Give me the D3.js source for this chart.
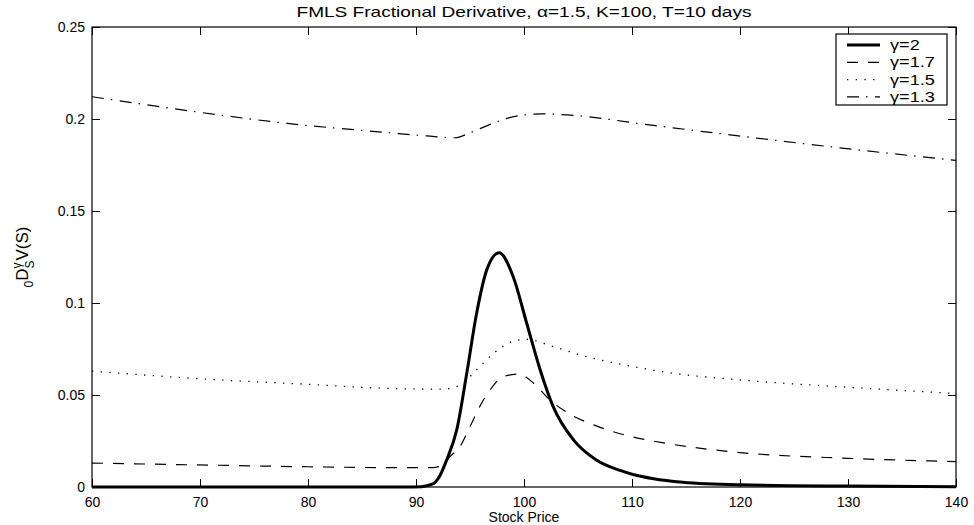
<!DOCTYPE html>
<html>
<head>
<meta charset="utf-8">
<script src="https://cdn.jsdelivr.net/npm/d3@7"></script>
<style>
  body { margin: 0; background: #fff; }
  svg { display: block; font-family: "Liberation Sans", Arial, sans-serif; }
</style>
</head>
<body>
<svg id="chart" width="974" height="525"></svg>
<script>
// values
const xTicks = [60, 70, 80, 90, 100, 110, 120, 130, 140];
const yTicks = [0, 0.05, 0.1, 0.15, 0.2, 0.25];

const sGamma2 = [60, 80, 89, 90.5, 91.5, 92.2, 92.84, 93.77, 94.7, 95.6, 96.55, 97.7,
  99.0, 100.25, 101.5, 102.7, 104.6, 106.7, 108.9, 110.1, 112, 114.7, 120, 130, 140];
const vGamma2 = [0, 0, 0, 0.0002, 0.0015, 0.006, 0.0147, 0.031, 0.0618, 0.094, 0.118, 0.1273,
  0.1143, 0.089, 0.0636, 0.0437, 0.0255, 0.0147, 0.009, 0.0068, 0.0045, 0.0026, 0.0012, 0.0005, 0.0002];

const sGamma17 = [60, 69.8, 80, 88.6, 91.5, 92.5, 93.15, 94.07, 95, 95.9, 96.85, 98.1, 99.5,
  100.9, 102.4, 104.6, 106.7, 108, 110, 113.2, 120, 130, 140];
const vGamma17 = [0.013, 0.012, 0.011, 0.0105, 0.0105, 0.012, 0.0165, 0.0219, 0.0328, 0.0437,
  0.0527, 0.06, 0.0614, 0.0564, 0.0473, 0.0385, 0.0332, 0.0305, 0.0273, 0.0237, 0.0187, 0.0156, 0.0138];

const sGamma15 = [60, 69.8, 80, 88.6, 92.5, 94.07, 95.6, 97.2, 99, 100.25, 102.7, 105.8,
  108.6, 113.2, 120, 130, 140];
const vGamma15 = [0.063, 0.0589, 0.0558, 0.0534, 0.0532, 0.0554, 0.0636, 0.0727, 0.0793, 0.0803,
  0.0763, 0.0708, 0.0672, 0.0623, 0.0582, 0.0542, 0.0508];

const sGamma13 = [60, 68.9, 78.1, 87.4, 91, 93.6, 95, 96.7, 98.5, 100.06, 101.5, 104, 112,
  121, 130.5, 140];
const vGamma13 = [0.2121, 0.2045, 0.1976, 0.1926, 0.1908, 0.1898, 0.1925, 0.1967, 0.2005, 0.2022,
  0.2028, 0.2022, 0.1965, 0.19, 0.1835, 0.1775];

const seriesNames = ['γ=2', 'γ=1.7', 'γ=1.5', 'γ=1.3'];

const series = [
  {name: seriesNames[0], s: sGamma2, v: vGamma2, width: 3, dash: null},
  {name: seriesNames[1], s: sGamma17, v: vGamma17, width: 1.2, dash: '11,10'},
  {name: seriesNames[2], s: sGamma15, v: vGamma15, width: 1.3, dash: '1.3,7.4'},
  {name: seriesNames[3], s: sGamma13, v: vGamma13, width: 1.2, dash: '12,7,1.5,7.5'},
].map(d => ({...d, points: d.s.map((s, i) => ({s, v: d.v[i]}))}));

const plot = {left: 92, right: 956, top: 27, bottom: 487};
const tickLen = 8;

const svg = d3.select('#chart');

const xScale = d3.scaleLinear().domain([60, 140]).range([plot.left, plot.right]);
const yScale = d3.scaleLinear().domain([0, 0.25]).range([plot.bottom, plot.top]);

const line = d3.line()
  .x(d => xScale(d.s))
  .y(d => yScale(d.v))
  .curve(d3.curveMonotoneX);

// curves
svg.append('g')
  .selectAll('path')
  .data(series)
  .join('path')
    .attr('fill', 'none')
    .attr('stroke', '#000')
    .attr('stroke-width', d => d.width)
    .attr('stroke-dasharray', d => d.dash)
    .attr('d', d => line(d.points));

// axes, ticks pointing inwards on all four sides
const fmtY = d => d === 0 ? '0' : String(d);

svg.append('g')
    .attr('transform', `translate(0,${plot.bottom})`)
    .call(d3.axisBottom(xScale).tickValues(xTicks).tickSize(-tickLen).tickPadding(10).tickSizeOuter(0))
    .call(g => g.select('.domain').remove())
    .call(g => g.selectAll('text').attr('font-size', 14).attr('fill', '#000'));

svg.append('g')
    .attr('transform', `translate(0,${plot.top})`)
    .call(d3.axisTop(xScale).tickValues(xTicks).tickSize(-tickLen).tickFormat('').tickSizeOuter(0))
    .call(g => g.select('.domain').remove());

svg.append('g')
    .attr('transform', `translate(${plot.left},0)`)
    .call(d3.axisLeft(yScale).tickValues(yTicks).tickSize(-tickLen).tickPadding(7).tickFormat(fmtY).tickSizeOuter(0))
    .call(g => g.select('.domain').remove())
    .call(g => g.selectAll('text').attr('font-size', 14).attr('fill', '#000'));

svg.append('g')
    .attr('transform', `translate(${plot.right},0)`)
    .call(d3.axisRight(yScale).tickValues(yTicks).tickSize(-tickLen).tickFormat('').tickSizeOuter(0))
    .call(g => g.select('.domain').remove());

svg.selectAll('.tick line').attr('stroke', '#000');

svg.append('rect')
    .attr('x', plot.left).attr('y', plot.top)
    .attr('width', plot.right - plot.left).attr('height', plot.bottom - plot.top)
    .attr('fill', 'none')
    .attr('stroke', '#000')
    .attr('stroke-width', 1.2);

// titles
svg.append('text')
    .attr('x', (plot.left + plot.right) / 2).attr('y', 17)
    .attr('text-anchor', 'middle')
    .attr('font-size', 15)
    .attr('textLength', 455)
    .attr('lengthAdjust', 'spacingAndGlyphs')
    .text('FMLS Fractional Derivative, α=1.5, K=100, T=10 days');

svg.append('text')
    .attr('x', (plot.left + plot.right) / 2).attr('y', 522)
    .attr('text-anchor', 'middle')
    .attr('font-size', 14)
    .text('Stock Price');

const yLabel = svg.append('text')
    .attr('transform', `translate(28,${(plot.top + plot.bottom) / 2}) rotate(-90)`)
    .attr('text-anchor', 'middle')
    .attr('font-size', 17);
yLabel.append('tspan').attr('font-size', 12).attr('dy', 5).text('0');
yLabel.append('tspan').attr('dy', -5).text('D');
yLabel.append('tspan').attr('font-size', 12).attr('dy', -7).text('γ');
yLabel.append('tspan').attr('font-size', 12).attr('dx', -6).attr('dy', 13).text('S');
yLabel.append('tspan').attr('dy', -6).text('V(S)');

// legend
const legend = svg.append('g').attr('transform', 'translate(836,34)');
legend.append('rect')
    .attr('width', 111).attr('height', 71)
    .attr('fill', '#fff')
    .attr('stroke', '#000')
    .attr('stroke-width', 1.2);

const item = legend.selectAll('g')
  .data(series)
  .join('g')
    .attr('transform', (d, i) => `translate(0,${11 + i * 17.3})`);

item.append('line')
    .attr('x1', 11).attr('x2', 44)
    .attr('stroke', '#000')
    .attr('stroke-width', d => d.width)
    .attr('stroke-dasharray', d => d.dash);

item.append('text')
    .attr('transform', 'translate(54,0) scale(1.3,1)')
    .attr('dy', '0.35em')
    .attr('font-size', 14)
    .text(d => d.name);
</script>
</body>
</html>
